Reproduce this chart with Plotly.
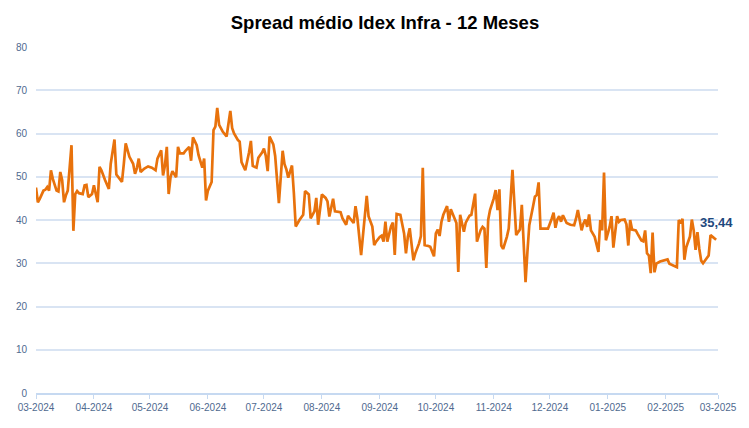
import plotly.graph_objects as go

# daily spread readings, Idex Infra
dates = [
    # 03-2024
    "2024-03-01", "2024-03-02", "2024-03-03", "2024-03-05", "2024-03-06", "2024-03-07", "2024-03-08",
    "2024-03-09", "2024-03-10", "2024-03-12", "2024-03-13", "2024-03-14", "2024-03-15", "2024-03-16",
    "2024-03-17", "2024-03-18", "2024-03-20", "2024-03-21", "2024-03-22", "2024-03-23", "2024-03-24",
    "2024-03-26", "2024-03-27", "2024-03-28", "2024-03-29", "2024-03-31",
    # 04-2024
    "2024-04-01", "2024-04-03", "2024-04-04", "2024-04-05", "2024-04-07", "2024-04-09", "2024-04-10",
    "2024-04-12", "2024-04-13", "2024-04-14", "2024-04-16", "2024-04-17", "2024-04-18", "2024-04-20",
    "2024-04-21", "2024-04-22", "2024-04-23", "2024-04-24", "2024-04-25", "2024-04-26", "2024-04-28",
    "2024-04-30",
    # 05-2024
    "2024-05-02", "2024-05-04", "2024-05-05", "2024-05-07", "2024-05-08", "2024-05-09", "2024-05-10",
    "2024-05-11", "2024-05-12", "2024-05-13", "2024-05-15", "2024-05-16", "2024-05-17", "2024-05-19",
    "2024-05-20", "2024-05-22", "2024-05-23", "2024-05-24", "2024-05-26", "2024-05-27", "2024-05-29",
    "2024-05-30", "2024-05-31",
    # 06-2024
    "2024-06-01", "2024-06-03", "2024-06-04", "2024-06-05", "2024-06-06", "2024-06-07", "2024-06-08",
    "2024-06-09", "2024-06-11", "2024-06-13", "2024-06-14", "2024-06-15", "2024-06-17", "2024-06-18",
    "2024-06-19", "2024-06-21", "2024-06-23", "2024-06-24", "2024-06-25", "2024-06-27", "2024-06-28",
    "2024-06-30",
    # 07-2024
    "2024-07-01", "2024-07-02", "2024-07-03", "2024-07-04", "2024-07-06", "2024-07-07", "2024-07-09",
    "2024-07-10", "2024-07-11", "2024-07-12", "2024-07-13", "2024-07-14", "2024-07-16", "2024-07-17",
    "2024-07-18", "2024-07-20", "2024-07-22", "2024-07-23", "2024-07-25", "2024-07-26", "2024-07-27",
    "2024-07-28", "2024-07-29", "2024-07-30",
    # 08-2024
    "2024-08-01", "2024-08-03", "2024-08-04", "2024-08-05", "2024-08-07", "2024-08-08", "2024-08-11",
    "2024-08-12", "2024-08-14", "2024-08-15", "2024-08-16", "2024-08-18", "2024-08-19", "2024-08-20",
    "2024-08-22", "2024-08-24", "2024-08-25", "2024-08-26", "2024-08-28", "2024-08-29", "2024-08-30",
    # 09-2024
    "2024-09-01", "2024-09-02", "2024-09-03", "2024-09-04", "2024-09-05", "2024-09-06", "2024-09-07",
    "2024-09-08", "2024-09-09", "2024-09-10", "2024-09-12", "2024-09-14", "2024-09-15", "2024-09-16",
    "2024-09-17", "2024-09-19", "2024-09-20", "2024-09-22", "2024-09-23", "2024-09-24", "2024-09-25",
    "2024-09-27", "2024-09-28", "2024-09-30",
    # 10-2024
    "2024-10-01", "2024-10-02", "2024-10-03", "2024-10-04", "2024-10-05", "2024-10-07", "2024-10-08",
    "2024-10-09", "2024-10-11", "2024-10-12", "2024-10-13", "2024-10-14", "2024-10-16", "2024-10-17",
    "2024-10-19", "2024-10-20", "2024-10-22", "2024-10-23", "2024-10-25", "2024-10-26", "2024-10-27",
    "2024-10-28", "2024-10-29", "2024-10-30",
    # 11-2024
    "2024-11-01", "2024-11-02", "2024-11-03", "2024-11-04", "2024-11-05", "2024-11-06", "2024-11-08",
    "2024-11-09", "2024-11-11", "2024-11-12", "2024-11-13", "2024-11-14", "2024-11-15", "2024-11-16",
    "2024-11-18", "2024-11-19", "2024-11-20", "2024-11-22", "2024-11-23", "2024-11-24", "2024-11-25",
    "2024-11-26", "2024-11-28", "2024-11-30",
    # 12-2024
    "2024-12-02", "2024-12-03", "2024-12-04", "2024-12-05", "2024-12-06", "2024-12-07", "2024-12-08",
    "2024-12-09", "2024-12-10", "2024-12-12", "2024-12-14", "2024-12-15", "2024-12-16", "2024-12-18",
    "2024-12-19", "2024-12-20", "2024-12-21", "2024-12-22", "2024-12-23", "2024-12-25", "2024-12-26",
    "2024-12-27", "2024-12-28", "2024-12-29", "2024-12-30", "2024-12-31",
    # 01-2025
    "2025-01-02", "2025-01-03", "2025-01-04", "2025-01-05", "2025-01-06", "2025-01-07", "2025-01-08",
    "2025-01-10", "2025-01-11", "2025-01-12", "2025-01-13", "2025-01-14", "2025-01-16", "2025-01-17",
    "2025-01-19", "2025-01-20", "2025-01-21", "2025-01-22", "2025-01-23", "2025-01-24", "2025-01-25",
    "2025-01-26", "2025-01-27", "2025-01-29", "2025-01-31",
    # 02-2025
    "2025-02-02", "2025-02-03", "2025-02-05", "2025-02-07", "2025-02-08", "2025-02-09", "2025-02-10",
    "2025-02-11", "2025-02-12", "2025-02-14", "2025-02-15", "2025-02-16", "2025-02-17", "2025-02-18",
    "2025-02-19", "2025-02-20", "2025-02-21", "2025-02-23", "2025-02-24", "2025-02-25", "2025-02-26",
    "2025-02-28",
]

spread = [
    # 03-2024
    47.5, 44.1, 44.9, 46.8, 47.0, 47.6, 46.8, 51.5, 49.5, 46.8, 46.6, 51.1, 49.2, 44.1,
    45.7, 46.8, 57.3, 37.5, 46.0, 46.7, 46.2, 46.0, 48.0, 48.1, 45.3, 46.0,
    # 04-2024
    48.0, 44.1, 52.3, 51.5, 49.2, 47.2, 53.0, 58.6, 50.5, 49.9, 48.8, 53.0, 57.7, 54.6,
    53.8, 53.0, 50.7, 52.0, 54.2, 51.1, 51.9, 52.4,
    # 05-2024
    52.1, 51.5, 54.2, 56.1, 50.3, 52.6, 56.9, 46.0, 49.9, 51.3, 49.9, 56.9, 55.4, 55.4,
    56.0, 56.9, 53.7, 59.1, 57.3, 55.0, 52.1, 54.2, 44.5,
    # 06-2024
    46.8, 48.8, 60.8, 61.6, 65.9, 62.0, 61.2, 60.4, 59.3, 65.2, 61.2, 60.0, 58.5, 58.1,
    53.4, 51.5, 55.6, 58.3, 52.5, 52.1, 54.4, 55.6,
    # 07-2024
    56.5, 54.8, 51.3, 59.3, 57.5, 54.8, 43.9, 50.2, 56.0, 52.9, 51.7, 49.8, 52.6, 46.3,
    38.5, 40.0, 41.2, 46.7, 45.9, 40.4, 41.2, 42.0, 45.1, 38.9,
    # 08-2024
    45.9, 45.1, 44.3, 40.8, 44.9, 42.0, 41.8, 40.4, 38.9, 41.0, 40.4, 39.3, 43.2, 40.4,
    31.9, 40.8, 45.6, 40.8, 38.5, 34.2, 35.0,
    # 09-2024
    36.1, 36.4, 35.0, 39.6, 35.0, 36.9, 38.5, 39.4, 31.9, 41.4, 41.2, 36.9, 32.3, 36.1,
    38.1, 30.7, 32.3, 34.6, 36.3, 52.1, 34.2, 34.0, 33.8, 31.6,
    # 10-2024
    36.9, 37.8, 36.3, 39.6, 41.2, 43.2, 39.6, 42.5, 40.4, 39.3, 28.0, 41.2, 37.3, 39.4,
    41.0, 41.2, 46.1, 35.0, 37.7, 38.4, 38.0, 28.9, 40.0, 42.3,
    # 11-2024
    45.0, 46.9, 42.3, 47.1, 34.1, 33.3, 36.1, 38.0, 51.6, 44.2, 36.5, 37.2, 37.8, 43.5,
    25.6, 32.6, 38.8, 43.1, 45.4, 45.8, 48.7, 38.0, 38.0, 38.0,
    # 12-2024
    40.3, 41.7, 38.2, 40.1, 40.9, 39.6, 41.1, 40.0, 39.3, 38.9, 38.8, 40.3, 42.3, 37.6,
    39.2, 40.1, 38.4, 41.3, 37.6, 36.1, 34.5, 32.6, 40.0, 37.6, 51.0, 35.3,
    # 01-2025
    38.4, 40.9, 33.6, 37.6, 40.9, 39.6, 40.0, 40.1, 39.0, 34.1, 40.0, 37.8, 37.6, 36.8,
    35.3, 35.1, 37.6, 32.3, 31.8, 27.7, 37.1, 27.9, 29.9, 30.4, 30.6,
    # 02-2025
    30.9, 29.9, 29.5, 29.1, 40.0, 39.2, 40.3, 30.8, 33.7, 36.2, 40.1, 37.6, 33.1, 37.2,
    33.3, 30.6, 30.0, 31.4, 31.8, 36.5, 36.1, 35.44,
]

last_label = "35,44"

fig = go.Figure()

fig.add_trace(go.Scatter(
    x=dates, y=spread, mode="lines",
    line=dict(color="#E8720C", width=2.7),
    hoverinfo="x+y", showlegend=False,
))

# value of the last point written above it
fig.add_annotation(
    x=dates[-1], y=spread[-1], text="<b>" + last_label + "</b>",
    showarrow=False, yshift=17, xshift=0,
    font=dict(size=13, color="#1F497D", family="Liberation Sans"),
)

fig.update_layout(
    width=749, height=428,
    margin=dict(l=36, r=31, t=47, b=35),
    paper_bgcolor="white", plot_bgcolor="white",
    title=dict(text="<b>Spread médio Idex Infra - 12 Meses</b>",
               x=0.514, xanchor="center", y=0.948, yanchor="middle",
               font=dict(size=18.5, color="black", family="Liberation Sans")),
    font=dict(family="Liberation Sans Narrow, Liberation Sans, sans-serif", color="#4F6A8F", size=10),
)

fig.update_xaxes(
    type="date", range=["2024-03-01", "2025-03-01"],
    tick0="2024-03-01", dtick="M1", tickformat="%m-%Y",
    showgrid=False, zeroline=False,
    showline=True, linecolor="#C6D9F1", linewidth=1.5,
    ticks="outside", ticklen=4, tickcolor="#C6D9F1",
)

fig.update_yaxes(
    range=[0, 80], dtick=10,
    showgrid=True, gridcolor="#D9E4F3", gridwidth=1.5,
    zeroline=False, showline=False, ticks="", ticklabelstandoff=8,
)

# the page body has a default margin; drop it so the chart sits at the window corner
fig.write_html("out.html", config={"displayModeBar": False},
               post_script="document.body.style.margin='0';")
